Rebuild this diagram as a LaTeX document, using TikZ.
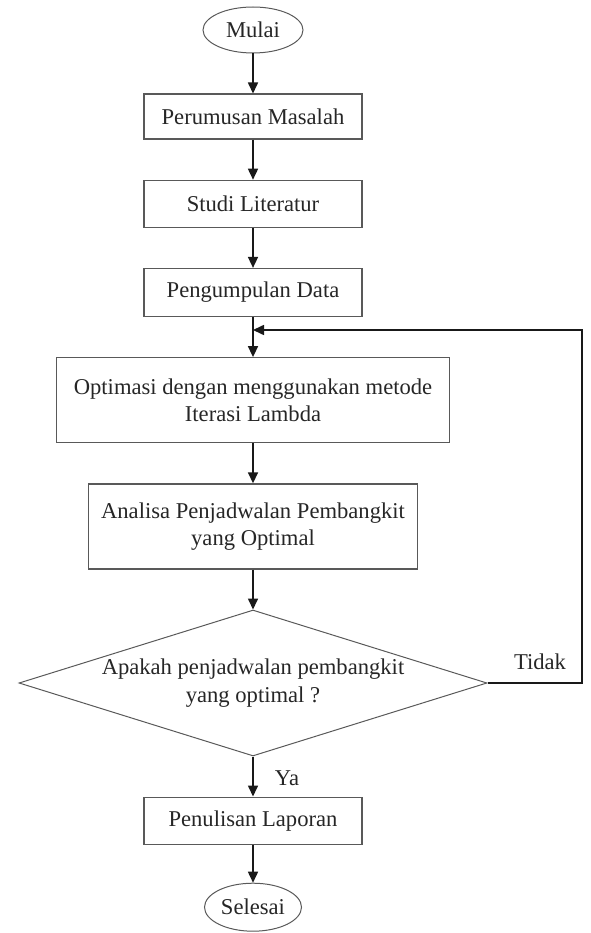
\documentclass[tikz,border=0pt]{standalone}
\usepackage{fontspec}
\setmainfont{Liberation Serif}
\usetikzlibrary{positioning,shapes.geometric,arrows.meta}

\begin{document}
\begin{tikzpicture}
        [x=1pt,y=1pt,node distance=40pt,
        every node/.style={font=\fontsize{22.6}{27.5}\selectfont,text=black!85},
        terminal/.style={draw=black!65,ellipse,line width=1pt,minimum width=100pt,minimum height=46pt,inner sep=0pt},
        proses/.style={draw=black!65,rectangle,line width=1.2pt,minimum width=218pt,minimum height=46pt,align=center},
        keputusan/.style={draw=black!65,diamond,aspect=3.2,line width=1pt,minimum width=468pt,minimum height=146pt,inner sep=0pt,align=center},
        panah/.style={-{Triangle[length=11pt,width=10pt]},line width=1.6pt,draw=black!90}]
        \useasboundingbox (0,0) rectangle (590,-933);
        \node[terminal] (mulai) at (253,-30) {Mulai};
        \node[proses,below=of mulai,minimum height=45pt] (rumusan) {Perumusan Masalah};
        \node[proses,below=of rumusan,minimum height=47pt] (studi) {Studi Literatur};
        \node[proses,below=of studi,minimum height=48pt] (kumpul) {Pengumpulan Data};
        \node[proses,below=of kumpul,minimum width=393pt,minimum height=85pt] (optimasi) {Optimasi dengan menggunakan metode\\Iterasi Lambda};
        \node[proses,below=of optimasi,minimum width=329pt,minimum height=85pt] (analisa) {Analisa Penjadwalan Pembangkit\\yang Optimal};
        \node[keputusan,below=of analisa] (cek) {Apakah penjadwalan pembangkit\\yang optimal ?};
        \node[proses,below=of cek,minimum height=47pt] (laporan) {Penulisan Laporan};
        \node[terminal,below=38pt of laporan,minimum width=97pt,minimum height=48pt] (selesai) {Selesai};
        \node (tidak) at (540,-662) {Tidak};
        \node (ya) at (287,-778) {Ya};
        \coordinate (sudut) at (582,-330);
        \foreach \a/\b in {mulai/rumusan,rumusan/studi,studi/kumpul,kumpul/optimasi,optimasi/analisa,analisa/cek,cek/laporan,laporan/selesai}
            \draw[panah] (\a) -- (\b);
        \draw[panah] (cek.east) -| (sudut) -- (sudut -| kumpul);
\end{tikzpicture}
\end{document}
